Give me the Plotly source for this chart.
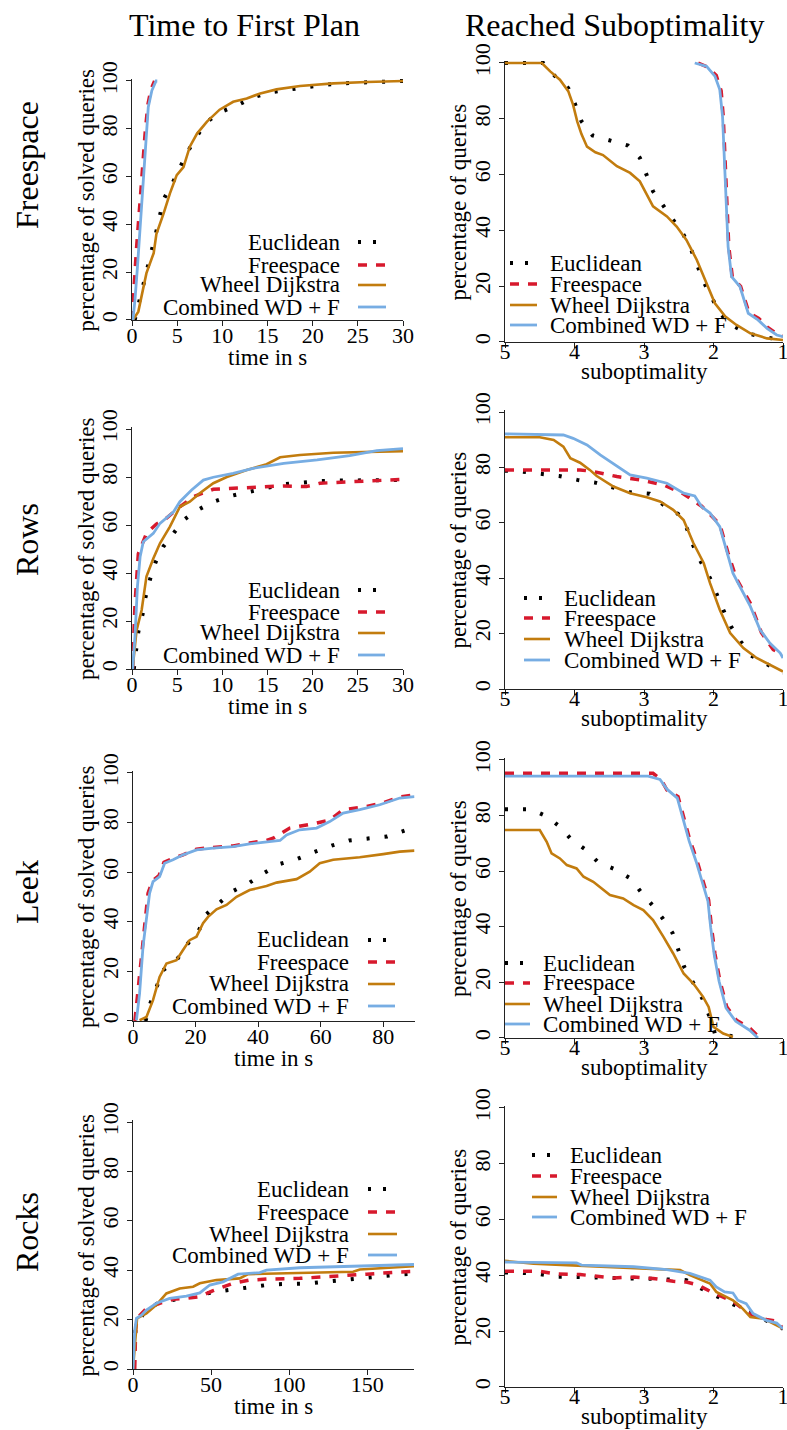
import plotly.graph_objects as go

W, H = 787, 1430
FONT = "Liberation Serif"

SERIES = ["Euclidean", "Freespace", "Wheel Dijkstra", "Combined WD + F"]
COLORS = ["#000000", "#D7192D", "#C27C0E", "#77ADE3"]
DASHES = ["3px,15px", "9px,9px", "solid", "solid"]
LEG_DASHES = ["3px,12px", "9px,9px", "solid", "solid"]
WIDTHS = [4, 3.5, 2.6, 2.8]

# ---------------- Freespace ----------------
fs_time_euc_t = [0.3, 0.78, 1.7, 2.66, 3.5, 4.5, 5.3, 6.2, 7.2, 8.1, 9.7, 11.5, 13.3, 15.1, 17, 19, 21, 23, 27, 30]
fs_time_euc_p = [0, 7, 21.6, 36.5, 50.5, 57.4, 64, 70.7, 77, 82.3, 86.9, 89.5, 93, 95.1, 96.2, 97.3, 98.3, 99, 99.7, 100]
fs_time_free_t = [0, 0.15, 0.5, 0.9, 1.15, 1.45, 1.75, 2.1, 2.5]
fs_time_free_p = [0, 11, 30, 50, 64, 78, 90, 96.5, 100]
fs_time_wd_t = [0.1, 0.7, 1.2, 1.6, 2.4, 2.7, 3.5, 4.2, 4.95, 5.7, 6.4, 7.2, 8.3, 9.7, 11.2, 12.7, 14.2, 16, 18.6, 22.3, 26, 30]
fs_time_wd_p = [0, 3.5, 12.5, 19.6, 28, 36, 44.6, 53, 60.6, 64, 72.5, 78, 83, 88, 91.3, 92.7, 94.8, 96.5, 97.9, 99, 99.6, 100]
fs_time_comb_t = [0.1, 0.33, 0.6, 0.9, 1.18, 1.5, 1.8, 2.2, 2.66, 2.8]
fs_time_comb_p = [0, 8.4, 22, 39, 55.8, 75, 89, 96, 100, 100]

fs_sub_euc_s = [5, 4.45, 4.28, 4.09, 3.99, 3.9, 3.74, 3.49, 3.23, 3.06, 2.96, 2.87, 2.72, 2.58, 2.43, 2.32, 2.23, 2.13, 2.02, 1.91, 1.74, 1.52, 1.26, 1]
fs_sub_euc_p = [100, 100, 95.3, 91, 85.1, 79.1, 74, 72.3, 70.4, 66, 60, 54, 48.8, 43.8, 38.4, 33, 27, 21, 15.7, 10.3, 6.1, 3.1, 1.7, 0.7]
fs_sub_free_s = [2.22, 2.08, 1.96, 1.89, 1.86, 1.84, 1.81, 1.78, 1.73, 1.61, 1.49, 1.35, 1.22, 1.08, 1]
fs_sub_free_p = [100, 98.5, 95.5, 90, 80.9, 69, 51, 34.2, 23.4, 19.9, 10.5, 8.5, 5.2, 2.8, 2.1]
fs_sub_wd_s = [5, 4.47, 4.35, 4.21, 4.09, 4.02, 3.96, 3.9, 3.82, 3.7, 3.59, 3.39, 3.2, 3.06, 2.87, 2.67, 2.53, 2.39, 2.24, 2.1, 1.98, 1.83, 1.67, 1.47, 1.23, 1]
fs_sub_wd_p = [100, 100, 97, 94, 89.9, 85, 79, 74.5, 70, 68, 67, 63, 60.6, 57.6, 48.6, 45, 41.4, 36.6, 29.4, 21, 13.9, 9.1, 6.1, 3.1, 1.3, 0.7]
fs_sub_comb_s = [2.27, 2.1, 1.98, 1.91, 1.87, 1.85, 1.82, 1.79, 1.74, 1.62, 1.5, 1.36, 1.23, 1.09, 1]
fs_sub_comb_p = [100, 98.8, 95.3, 90.5, 80.9, 69, 51, 34.2, 23.4, 19.9, 10.3, 7.9, 4.9, 2.5, 1.9]

# ---------------- Rows ----------------
rw_time_euc_t = [0.2, 0.44, 0.7, 1.18, 1.5, 2, 2.6, 3.47, 4.5, 5.7, 7.3, 9, 10.8, 12.8, 14.8, 16.8, 18.8, 20.7, 22.8, 24.8, 26.8, 28.8, 30]
rw_time_euc_p = [0, 7.9, 15.5, 23, 30, 37.4, 44.4, 51, 56.3, 62, 66.3, 69.7, 72, 73.7, 75.5, 77, 77.6, 78.3, 78.5, 78.5, 78.5, 78.6, 78.8]
rw_time_free_t = [0.07, 0.33, 0.7, 1.6, 2.7, 3.8, 5.3, 6.8, 9, 11.2, 13.4, 16.8, 19.3, 20.8, 24.1, 30]
rw_time_free_p = [0, 27, 48, 56.5, 60.4, 62.8, 67.6, 71.8, 74.9, 75.3, 76, 76.3, 76, 77.4, 78, 79]
rw_time_wd_t = [0.07, 0.5, 1.07, 1.6, 2.36, 3.1, 4.2, 5.3, 6.4, 7.5, 9, 10.5, 12.7, 14.9, 16.4, 18.6, 22.3, 26, 30]
rw_time_wd_p = [0.3, 16, 24.6, 38.5, 46, 52.4, 59.3, 67.6, 69.7, 73.2, 77.4, 80, 82.9, 85.3, 88.2, 89.2, 90.1, 90.5, 90.8]
rw_time_comb_t = [0.07, 0.33, 0.6, 0.9, 1.25, 2.36, 3.1, 4.6, 5.3, 6.6, 7.9, 9, 11.2, 13.4, 16.8, 20.5, 24.1, 27.1, 30]
rw_time_comb_p = [0, 13.5, 34.3, 46.8, 53, 56.5, 60.7, 65.5, 69.7, 74.6, 78.7, 79.9, 81.5, 83.6, 85.7, 87.1, 88.9, 91, 91.8]

rw_sub_euc_s = [5, 4.76, 4.22, 3.96, 3.7, 3.44, 3.19, 2.92, 2.72, 2.51, 2.38, 2.29, 2.18, 2.05, 1.96, 1.86, 1.75, 1.61, 1.46, 1.23, 1]
rw_sub_euc_p = [78.8, 78.5, 76.9, 75.5, 74.5, 72.8, 71, 70.5, 66.5, 63.2, 57.8, 51.7, 45.8, 40, 34.3, 28.6, 22.6, 17.2, 12.1, 8.8, 5.8]
rw_sub_free_s = [5, 4.4, 3.92, 3.73, 3.39, 3.06, 2.72, 2.43, 2.17, 1.91, 1.79, 1.67, 1.47, 1.31, 1.14, 1]
rw_sub_free_p = [79.1, 79.1, 79.1, 78.5, 76.7, 75.5, 73.7, 70.4, 66, 59.5, 49, 39.8, 31, 20.3, 14.2, 12.4]
rw_sub_wd_s = [5, 4.5, 4.3, 4.16, 4.06, 3.92, 3.78, 3.68, 3.44, 3.2, 2.96, 2.77, 2.58, 2.43, 2.29, 2.14, 2.05, 1.91, 1.76, 1.57, 1.38, 1.19, 1]
rw_sub_wd_p = [90.9, 90.9, 89.9, 87.5, 83.3, 81.7, 79.1, 76.9, 73.1, 70.7, 69.2, 67.7, 64.7, 61, 52.7, 45.4, 38.2, 28.6, 20.2, 14.8, 11.2, 8.8, 6.3]
rw_sub_comb_s = [5, 4.16, 4.02, 3.82, 3.63, 3.39, 3.2, 2.96, 2.67, 2.43, 2.27, 2.17, 2.05, 1.91, 1.81, 1.72, 1.62, 1.47, 1.33, 1.19, 1.04, 1]
rw_sub_comb_p = [92.1, 91.7, 90.5, 88.1, 84.5, 80.3, 77.3, 76.1, 74.3, 70.7, 69.7, 65.8, 63.5, 58.6, 50.2, 41.8, 37, 29.8, 21.4, 16.6, 13, 11.2]

# ---------------- Leek ----------------
lk_time_euc_t = [4, 5.3, 9.6, 13.9, 17.1, 21, 23.5, 27.7, 32, 37.3, 42.1, 46.9, 52.6, 57.9, 63.5, 69.1, 75.2, 81.3, 87.3, 90]
lk_time_euc_p = [0, 6.3, 20.5, 24.5, 30.6, 36.4, 43.1, 47.9, 52.4, 55.8, 59.8, 63.3, 65.4, 68.1, 70.7, 72.8, 73.8, 74.4, 77, 77.3]
lk_time_free_t = [0.6, 2.7, 4.8, 6.2, 8.3, 9.9, 12.6, 16, 20.3, 25.6, 32, 37.3, 42.7, 44.8, 50.1, 58.7, 62.9, 67.2, 74.7, 80, 85.3, 90]
lk_time_free_p = [0, 27, 51.5, 56.5, 58.6, 64, 65.5, 67, 69.3, 70, 70.6, 71.8, 72.8, 73.7, 77.8, 79.8, 81, 85.2, 86.5, 88, 90.3, 91.2]
lk_time_wd_t = [2.1, 4.3, 6.4, 8.5, 10.7, 13.9, 16, 18.1, 20.3, 22.4, 24, 26.7, 29.9, 33.1, 37.3, 42.7, 45.9, 52.3, 56.5, 59.7, 64, 72.5, 80, 85.3, 90]
lk_time_wd_p = [0.3, 1.6, 8.4, 17.8, 23.2, 24.5, 28.6, 32.6, 34, 39.4, 42, 45, 46.8, 50.1, 52.8, 54.4, 55.8, 57.2, 60.2, 63.6, 65, 66, 67.3, 68.3, 68.7]
lk_time_comb_t = [1.1, 2.1, 3.2, 4.3, 5.3, 6.4, 8.5, 10.1, 12.8, 16, 20.3, 25.6, 32, 37.3, 42.7, 47, 49.1, 53.3, 58.7, 62.9, 67.2, 72.5, 78.9, 85.3, 90]
lk_time_comb_p = [0.3, 11, 30, 40.7, 51.5, 56.2, 58.2, 63.6, 65, 67, 69, 69.7, 70.3, 71.4, 72.3, 72.8, 75, 77.1, 77.8, 80.4, 83.8, 85.2, 87.2, 89.9, 90.5]

lk_sub_euc_s = [5, 4.89, 4.63, 4.39, 4.2, 4.04, 3.83, 3.66, 3.41, 3.19, 3.04, 2.88, 2.73, 2.59, 2.51, 2.42, 2.29, 2.16, 2.06, 1.98, 1.72]
lk_sub_euc_p = [82.3, 82.3, 82.3, 79.6, 75.8, 71.2, 67.6, 63.2, 60.6, 57.3, 52.4, 47.8, 43, 37.8, 31.6, 25.5, 19.8, 14.2, 7.9, 1.6, 0.6]
lk_sub_free_s = [5, 2.87, 2.75, 2.67, 2.51, 2.43, 2.34, 2.24, 2.15, 2.07, 2.03, 1.98, 1.91, 1.81, 1.67, 1.47, 1.36]
lk_sub_free_p = [95.2, 95.2, 92.8, 89.2, 86.8, 79.6, 71.2, 64, 56.8, 49.6, 40, 30.4, 20.8, 11.2, 6.4, 3.4, 0.6]
lk_sub_wd_s = [5, 4.5, 4.4, 4.33, 4.21, 4.11, 3.97, 3.87, 3.73, 3.59, 3.49, 3.3, 3.15, 3.01, 2.87, 2.72, 2.58, 2.43, 2.29, 2.15, 2.07, 2, 1.86, 1.72]
lk_sub_wd_p = [74.8, 74.8, 70.6, 66.4, 64.6, 62.2, 61, 58, 56.2, 53.2, 51.4, 50.2, 47.8, 46, 42.4, 36.4, 30.4, 23.2, 19.6, 14.8, 11.2, 4, 1.6, 0.4]
lk_sub_comb_s = [5, 2.94, 2.77, 2.67, 2.52, 2.44, 2.35, 2.25, 2.16, 2.08, 2.04, 1.99, 1.92, 1.82, 1.68, 1.48, 1.36]
lk_sub_comb_p = [94.2, 94.2, 93, 89.5, 86.3, 79, 70.8, 63.5, 56.3, 49.2, 39.6, 30, 20.4, 10.8, 6, 2.8, 0]

# ---------------- Rocks ----------------
rk_time_euc_t = [0.3, 0.6, 1.7, 6.4, 16.1, 28, 40, 52.3, 64.1, 76.3, 88, 100, 112.2, 124, 136.1, 148.5, 160.3, 172, 180]
rk_time_euc_p = [0, 9, 16.4, 22.2, 26.8, 28.2, 29.8, 31.2, 32.2, 33.3, 34.2, 34.5, 34.6, 35.4, 36, 36.7, 37.6, 38.3, 38.6]
rk_time_free_t = [1.1, 1.7, 2.6, 8.6, 17.1, 25.6, 34.2, 42.8, 51.3, 64.1, 74.8, 85.5, 106.9, 128.2, 149.6, 171, 180]
rk_time_free_p = [0, 15.8, 20.5, 24.5, 26.6, 28.2, 28.6, 29.3, 31.7, 34.7, 36, 36.4, 36.7, 37.4, 38.4, 39.3, 39.5]
rk_time_wd_t = [0, 1.7, 2.6, 8.6, 15, 21.4, 25.6, 29.9, 38.5, 42.8, 53.4, 68.3, 73.8, 96.2, 128.2, 141, 145.3, 171, 180]
rk_time_wd_p = [0, 15.8, 20.5, 22.5, 26, 30.6, 31.7, 32.6, 33.3, 34.7, 36, 36.7, 38.4, 38.7, 39, 39.4, 40.3, 41.4, 41.6]
rk_time_comb_t = [0, 1.1, 2.2, 5.4, 8.6, 15, 23.5, 34.2, 42.8, 49.2, 57.7, 67.3, 81.2, 85.5, 106.9, 138.9, 171, 180]
rk_time_comb_p = [0, 15.8, 20.5, 21.8, 23.9, 26.6, 28.6, 29.5, 30.8, 34, 35.3, 38.4, 39, 40, 41, 41.6, 42, 42.3]

rk_sub_euc_s = [5, 4.81, 4.54, 4.28, 4.01, 3.74, 3.46, 3.2, 2.92, 2.66, 2.39, 2.17, 1.93, 1.69, 1.47, 1.24, 1]
rk_sub_euc_p = [41, 41, 40.6, 39.5, 39.5, 39.2, 39.1, 38.9, 38.8, 38.5, 38.3, 35.2, 32.1, 29.3, 26.6, 23.7, 20.9]
rk_sub_free_s = [5, 4.5, 4.26, 3.92, 3.44, 3.15, 2.87, 2.58, 2.39, 2.24, 2, 1.72, 1.47, 1.24, 1.09, 1]
rk_sub_free_p = [41.5, 41.5, 40.5, 40.3, 39.1, 39.4, 38.9, 37.9, 37.6, 36.7, 33.7, 30.7, 26, 24.2, 23.6, 20.9]
rk_sub_wd_s = [5, 4.59, 4.11, 3.63, 3.15, 2.48, 2.34, 2.05, 1.96, 1.72, 1.58, 1.47, 1.28, 1.14, 1]
rk_sub_wd_p = [45.2, 44.2, 43.7, 43.1, 42.7, 41.9, 40.1, 37.1, 34.1, 31.1, 28.1, 25.1, 24.5, 22.7, 20.9]
rk_sub_comb_s = [5, 3.97, 3.9, 3.15, 2.67, 2.34, 2.05, 1.96, 1.84, 1.72, 1.65, 1.53, 1.43, 1.33, 1.24, 1.09, 1]
rk_sub_comb_p = [44.8, 44.5, 43.7, 43.1, 42.1, 40.7, 38.3, 35.9, 34.1, 33.7, 31.1, 29.9, 26.3, 25.1, 23.9, 22.9, 20.9]

ROW_NAMES = ["Freespace", "Rows", "Leek", "Rocks"]
COL_TITLES = ["Time to First Plan", "Reached Suboptimality"]
TIME_MAX = [30, 30, 90, 180]
TIME_TICKS = [[0, 5, 10, 15, 20, 25, 30], [0, 5, 10, 15, 20, 25, 30],
              [0, 20, 40, 60, 80], [0, 50, 100, 150]]
SUB_TICKS = [5, 4, 3, 2, 1]
PCT_TICKS = [0, 20, 40, 60, 80, 100]

time_data = [
    [(fs_time_euc_t, fs_time_euc_p), (fs_time_free_t, fs_time_free_p), (fs_time_wd_t, fs_time_wd_p), (fs_time_comb_t, fs_time_comb_p)],
    [(rw_time_euc_t, rw_time_euc_p), (rw_time_free_t, rw_time_free_p), (rw_time_wd_t, rw_time_wd_p), (rw_time_comb_t, rw_time_comb_p)],
    [(lk_time_euc_t, lk_time_euc_p), (lk_time_free_t, lk_time_free_p), (lk_time_wd_t, lk_time_wd_p), (lk_time_comb_t, lk_time_comb_p)],
    [(rk_time_euc_t, rk_time_euc_p), (rk_time_free_t, rk_time_free_p), (rk_time_wd_t, rk_time_wd_p), (rk_time_comb_t, rk_time_comb_p)],
]
sub_data = [
    [(fs_sub_euc_s, fs_sub_euc_p), (fs_sub_free_s, fs_sub_free_p), (fs_sub_wd_s, fs_sub_wd_p), (fs_sub_comb_s, fs_sub_comb_p)],
    [(rw_sub_euc_s, rw_sub_euc_p), (rw_sub_free_s, rw_sub_free_p), (rw_sub_wd_s, rw_sub_wd_p), (rw_sub_comb_s, rw_sub_comb_p)],
    [(lk_sub_euc_s, lk_sub_euc_p), (lk_sub_free_s, lk_sub_free_p), (lk_sub_wd_s, lk_sub_wd_p), (lk_sub_comb_s, lk_sub_comb_p)],
    [(rk_sub_euc_s, rk_sub_euc_p), (rk_sub_free_s, rk_sub_free_p), (rk_sub_wd_s, rk_sub_wd_p), (rk_sub_comb_s, rk_sub_comb_p)],
]

# ---------------- layout geometry (pixels) ----------------
# plot boxes: (left, right, y of 100 %, y of 0 %)
LEFT_BOX = [(132, 403, 81, 320), (132, 403, 429, 669), (133, 414.5, 773, 1021), (133, 414, 1122, 1369)]
RIGHT_BOX = [(505, 783, 63, 342), (505, 783, 412, 689), (505, 783, 760, 1038), (505, 783, 1108, 1387)]
ROW_LABEL_Y = [165, 540, 892, 1232]

# legend placement: (text x, sample x0, sample x1, row y positions)
LEFT_LEG = [(342, 358, 386, [242, 265, 285, 307]),
            (342, 358, 385, [590, 612, 633, 655]),
            (351, 368, 395, [940, 962, 984, 1006]),
            (351, 368, 397, [1189, 1212, 1234, 1255])]
RIGHT_LEG = [(548, 510, 537, [263, 284, 305, 325]),
             (562, 524, 550, [598, 618, 639, 660]),
             (541, 505, 530, [963, 983, 1004, 1024]),
             (568, 532, 557, [1155, 1176, 1197, 1217])]

Y_HI = 100.8  # small headroom so lines at 100 % are not clipped


def px(x):
    return x / W


def py(y):
    return 1 - y / H


def ydom(top100, bot0):
    k = (bot0 - top100) / 100.0
    return [py(bot0), py(top100 - (Y_HI - 100) * k)]


fig = go.Figure()
layout = dict(
    width=W, height=H, margin=dict(l=0, r=0, t=0, b=0, autoexpand=False),
    paper_bgcolor="white", plot_bgcolor="white", showlegend=False,
    font=dict(family=FONT, size=22, color="black"),
)
annotations = []
shapes = []

AX_COMMON = dict(showline=True, linecolor="#222222", linewidth=1, showgrid=False, zeroline=False,
                 automargin=False, ticks="outside", ticklen=5, tickwidth=1, tickcolor="#222222",
                 ticklabeloverflow="allow",
                 tickfont=dict(family=FONT, size=22, color="black"))


def add_text(x, y, text, size=23, angle=0, xanchor="center", yanchor="middle"):
    annotations.append(dict(x=px(x), y=py(y), xref="paper", yref="paper", text=text, showarrow=False,
                            textangle=angle, xanchor=xanchor, yanchor=yanchor,
                            font=dict(family=FONT, size=size, color="black")))


def add_legend(text_x, s0, s1, rows, text_left):
    for i, name in enumerate(SERIES):
        y = rows[i]
        x1 = s0 + 18 if i == 0 else s1
        shapes.append(dict(type="line", xref="paper", yref="paper", x0=px(s0), x1=px(x1), y0=py(y), y1=py(y),
                           line=dict(color=COLORS[i], width=WIDTHS[i], dash=LEG_DASHES[i])))
        add_text(text_x, y, name, xanchor="right" if text_left else "left")


idx = 0
for r in range(4):
    for c in range(2):
        idx += 1
        xa = "x" if idx == 1 else f"x{idx}"
        ya = "y" if idx == 1 else f"y{idx}"
        if c == 0:
            l, rr, t100, b0 = LEFT_BOX[r]
            data = time_data[r]
            xrange = [0, TIME_MAX[r]]
            xticks = TIME_TICKS[r]
            standoff = -9
        else:
            l, rr, t100, b0 = RIGHT_BOX[r]
            data = sub_data[r]
            xrange = [5, 1]
            xticks = SUB_TICKS
            standoff = -15
        layout[f"xaxis{'' if idx == 1 else idx}"] = dict(
            AX_COMMON, domain=[px(l), px(rr)], range=xrange, anchor=ya,
            tickmode="array", tickvals=xticks, ticktext=[str(v) for v in xticks],
            ticklabelstandoff=standoff)
        layout[f"yaxis{'' if idx == 1 else idx}"] = dict(
            AX_COMMON, domain=ydom(t100, b0), range=[0, Y_HI], anchor=xa,
            tickmode="array", tickvals=PCT_TICKS, ticktext=[str(v) for v in PCT_TICKS], tickangle=-90)
        for i, (xs, ys) in enumerate(data):
            fig.add_trace(go.Scatter(x=xs, y=ys, mode="lines", xaxis=xa, yaxis=ya, name=SERIES[i],
                                     line=dict(color=COLORS[i], width=WIDTHS[i], dash=DASHES[i])))
        cx = (l + rr) / 2
        cy = (t100 + b0) / 2
        if c == 0:
            add_text(86, cy, "percentage of solved queries", angle=-90)
            add_text(cx, b0 + 37, "time in s")
            tx, s0, s1, rows = LEFT_LEG[r]
            add_legend(tx, s0, s1, rows, True)
        else:
            add_text(458, cy, "percentage of queries", angle=-90)
            add_text(cx, b0 + 29, "suboptimality")
            tx, s0, s1, rows = RIGHT_LEG[r]
            add_legend(tx, s0, s1, rows, False)

add_text(245, 25, COL_TITLES[0], size=32)
add_text(615, 25, COL_TITLES[1], size=32)
for r, name in enumerate(ROW_NAMES):
    add_text(27, ROW_LABEL_Y[r], name, size=32, angle=-90)

layout["annotations"] = annotations
layout["shapes"] = shapes
fig.update_layout(**layout)
fig.write_html("out.html")
